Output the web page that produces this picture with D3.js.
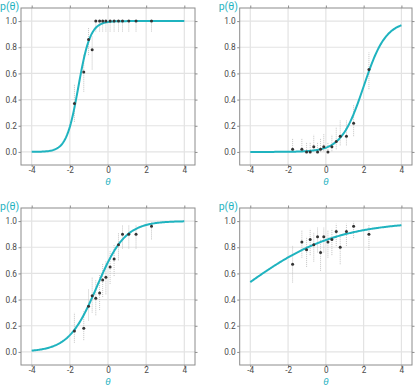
<!DOCTYPE html>
<html>
<head>
<meta charset="utf-8">
<script src="https://cdn.jsdelivr.net/npm/d3@7"></script>
<style>
html,body{margin:0;padding:0;background:#fff;}
svg{display:block;}
</style>
</head>
<body>
<svg id="chart" width="416" height="387"></svg>
<script>
// ---- data ----
const thetaBins = [-1.76, -1.27, -1.02, -0.83, -0.64, -0.44, -0.28, -0.11, 0.11, 0.32, 0.55, 0.76, 1.09, 1.47, 2.28];

const obs1 = [0.37, 0.61, 0.86, 0.78, 1, 1, 1, 1, 1, 1, 1, 1, 1, 1, 1];
const lo1  = [0.23, 0.46, 0.74, 0.63, 0.92, 0.92, 0.92, 0.92, 0.92, 0.92, 0.92, 0.92, 0.92, 0.92, 0.92];
const hi1  = [0.52, 0.75, 0.95, 0.89, 1, 1, 1, 1, 1, 1, 1, 1, 1, 1, 1];

const obs2 = [0.02, 0.02, 0, 0, 0.04, 0, 0.02, 0.04, 0, 0.04, 0.08, 0.12, 0.12, 0.22, 0.63];
const lo2  = [0, 0, 0, 0, 0.005, 0, 0, 0.005, 0, 0.005, 0.02, 0.05, 0.05, 0.12, 0.48];
const hi2  = [0.10, 0.10, 0.07, 0.07, 0.13, 0.07, 0.10, 0.14, 0.07, 0.13, 0.19, 0.24, 0.24, 0.36, 0.76];

const obs3 = [0.16, 0.18, 0.35, 0.43, 0.41, 0.45, 0.55, 0.57, 0.65, 0.71, 0.82, 0.90, 0.90, 0.90, 0.96];
const lo3  = [0.07, 0.09, 0.24, 0.30, 0.28, 0.32, 0.42, 0.44, 0.52, 0.58, 0.70, 0.79, 0.79, 0.79, 0.86];
const hi3  = [0.30, 0.31, 0.48, 0.57, 0.55, 0.59, 0.68, 0.70, 0.77, 0.82, 0.91, 0.97, 0.97, 0.97, 0.995];

const obs4 = [0.67, 0.84, 0.78, 0.86, 0.82, 0.88, 0.76, 0.88, 0.84, 0.86, 0.92, 0.80, 0.92, 0.96, 0.90];
const lo4  = [0.53, 0.72, 0.65, 0.74, 0.69, 0.76, 0.62, 0.76, 0.72, 0.74, 0.81, 0.67, 0.81, 0.87, 0.78];
const hi4  = [0.81, 0.93, 0.88, 0.94, 0.91, 0.95, 0.86, 0.95, 0.93, 0.94, 0.98, 0.89, 0.98, 0.995, 0.97];

// item parameters (discrimination a, difficulty b) of the fitted curves
const discrimination = [3.2, 1.7, 1.35, 0.41];
const difficulty     = [-1.55, 2.0, -0.58, -4.33];

const xTicks = [-4, -2, 0, 2, 4];
const yTicks = [0, 0.2, 0.4, 0.6, 0.8, 1.0];
const xLabel = "θ";
const yLabel = "p(θ)";

// ---- layout ----
const panels = [
  {left: 21,    top: 8,   w: 174, obs: obs1, lo: lo1, hi: hi1},
  {left: 239.7, top: 8,   w: 172.3, obs: obs2, lo: lo2, hi: hi2},
  {left: 21,    top: 208, w: 174, obs: obs3, lo: lo3, hi: hi3},
  {left: 239.7, top: 208, w: 172.3, obs: obs4, lo: lo4, hi: hi4}
];
const H = 157;
const teal = "#1fb3bf";
const frameCol = "#8c8c8c";
const gridCol = "#e3e3e3";
const textCol = "#4a4a4a";
const font = "Roboto, 'DejaVu Sans', sans-serif";

const svg = d3.select("#chart");
const thetaGrid = d3.range(-4, 4.0001, 0.05);

panels.forEach((p, i) => {
  const g = svg.append("g");
  const x = d3.scaleLinear().domain([-4.56, 4.56]).range([p.left, p.left + p.w]);
  const y = d3.scaleLinear().domain([-0.1, 1.1]).range([p.top + H, p.top]);

  // grid
  g.selectAll(".gx").data(xTicks).join("line")
    .attr("x1", d => x(d)).attr("x2", d => x(d))
    .attr("y1", p.top).attr("y2", p.top + H)
    .attr("stroke", gridCol).attr("stroke-width", 1.2);
  g.selectAll(".gy").data(yTicks).join("line")
    .attr("x1", p.left).attr("x2", p.left + p.w)
    .attr("y1", d => y(d)).attr("y2", d => y(d))
    .attr("stroke", gridCol).attr("stroke-width", 1.2);

  // axes (ticks on all four sides)
  const bottom = g.append("g").attr("transform", `translate(0,${p.top + H})`)
    .call(d3.axisBottom(x).tickValues(xTicks).tickSize(2).tickPadding(0.5).tickFormat(d => d < 0 ? "-" + Math.abs(d) : d));
  const top = g.append("g").attr("transform", `translate(0,${p.top})`)
    .call(d3.axisTop(x).tickValues(xTicks).tickSize(2.5).tickFormat(""));
  const left = g.append("g").attr("transform", `translate(${p.left},0)`)
    .call(d3.axisLeft(y).tickValues(yTicks).tickSize(2.5).tickPadding(1.5).tickFormat(d3.format(".1f")));
  const right = g.append("g").attr("transform", `translate(${p.left + p.w},0)`)
    .call(d3.axisRight(y).tickValues(yTicks).tickSize(2.5).tickFormat(""));
  [bottom, top, left, right].forEach(a => {
    a.select(".domain").remove();
    a.selectAll(".tick line").attr("stroke", frameCol);
    a.selectAll("text").attr("fill", textCol).style("font-family", font).style("font-size", "8.3px");
  });
  bottom.selectAll("text").style("font-size", "8.2px");

  // frame
  g.append("rect").attr("x", p.left).attr("y", p.top).attr("width", p.w).attr("height", H)
    .attr("fill", "none").attr("stroke", frameCol).attr("stroke-width", 1);

  // error bars
  g.selectAll(".err").data(thetaBins).join("line")
    .attr("x1", d => x(d)).attr("x2", d => x(d))
    .attr("y1", (d, k) => y(p.lo[k])).attr("y2", (d, k) => y(p.hi[k]))
    .attr("stroke", "#bdbdbd").attr("stroke-width", 0.9).attr("stroke-dasharray", "1,1");

  // curve
  const a = discrimination[i], b = difficulty[i];
  const line = d3.line().x(d => x(d)).y(d => y(1 / (1 + Math.exp(-a * (d - b)))));
  g.append("path").datum(thetaGrid).attr("d", line)
    .attr("fill", "none").attr("stroke", teal).attr("stroke-width", 2);

  // observed points
  g.selectAll(".pt").data(thetaBins).join("circle")
    .attr("cx", d => x(d)).attr("cy", (d, k) => y(p.obs[k]))
    .attr("r", 1.5).attr("fill", "#333");

  // labels
  g.append("text").attr("x", p.left - 21).attr("y", p.top + 2.2)
    .attr("fill", teal).style("font-family", font).style("font-size", "10.5px").text(yLabel);
  g.append("text").attr("x", x(0)).attr("y", p.top + 176.5)
    .attr("text-anchor", "middle").attr("fill", teal)
    .style("font-family", font).style("font-size", "9.8px").style("font-style", "italic").text(xLabel);
});
</script>
</body>
</html>
